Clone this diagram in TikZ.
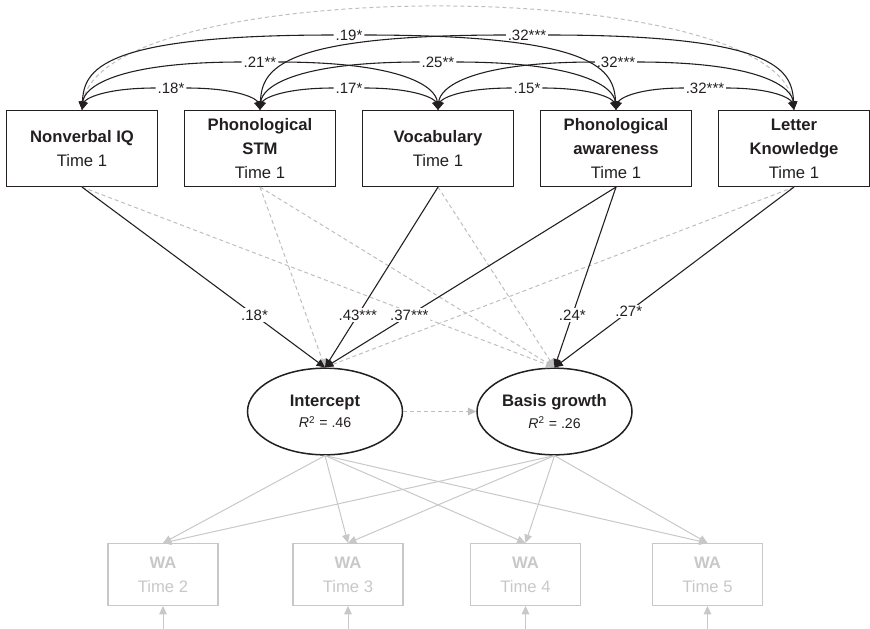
\documentclass[tikz,border=0pt]{standalone}
\usepackage{fontspec}
\setmainfont{Liberation Sans}
\usetikzlibrary{arrows.meta,shapes.geometric}
\definecolor{ink}{HTML}{231F20}
\definecolor{pale}{HTML}{C8C8C8}
\definecolor{nsgrey}{HTML}{BEBEBE}

\begin{document}
\begin{tikzpicture}[x=0.6pt,y=-0.6pt,
    font=\fontsize{10}{14.4}\selectfont,
    headed/.style={-{Triangle[length=5pt,width=4.6pt]}},
    pred/.style={draw=ink,text=ink,line width=0.8pt,minimum width=90.5pt,minimum height=45.5pt,align=center,inner sep=1pt},
    wabox/.style={draw=pale,text=pale,line width=0.8pt,minimum width=66pt,minimum height=37pt,align=center,inner sep=1pt},
    latent/.style={ellipse,draw=ink,text=ink,line width=0.9pt,minimum width=93pt,minimum height=52pt,inner sep=0pt,align=center},
    corr/.style={ink,line width=0.65pt,headed},
    nscorr/.style={nsgrey,line width=0.6pt,dash pattern=on 2.4pt off 1.8pt,{Triangle[length=5pt,width=4.6pt]}-{Triangle[length=5pt,width=4.6pt]}},
    effect/.style={ink,line width=0.65pt,headed},
    nseffect/.style={nsgrey,line width=0.6pt,dash pattern=on 2.4pt off 1.8pt,headed},
    loading/.style={pale,line width=0.6pt,headed},
    coef/.style={text=ink,font=\fontsize{9}{11}\selectfont,inner sep=1pt},
    wcoef/.style={coef,fill=white}]
    \useasboundingbox (0,0) rectangle (870,628);

    % time 1 predictors
    \node[pred] (niq) at (82,148.5) {\textbf{Nonverbal IQ}\\Time 1};
    \node[pred] (stm) at (260,148.5) {\textbf{Phonological}\\\textbf{STM}\\Time 1};
    \node[pred] (voc) at (438,148.5) {\textbf{Vocabulary}\\Time 1};
    \node[pred] (pa) at (616,148.5) {\textbf{Phonological}\\\textbf{awareness}\\Time 1};
    \node[pred] (lk) at (794,148.5) {\textbf{Letter}\\\textbf{Knowledge}\\Time 1};

    % growth factors
    \node[latent] (icpt) at (325,411.5) {\textbf{Intercept}\\[-1.5pt]{\fontsize{8.5}{10}\selectfont\textit{R}\textsuperscript{2} = .46}};
    \node[latent] (bg) at (554.5,411.5) {\textbf{Basis growth}\\[-1.5pt]{\fontsize{8.5}{10}\selectfont\textit{R}\textsuperscript{2} = .26}};

    % word attack, times 2-5
    \node[wabox] (wa2) at (163,574.5) {\textbf{WA}\\Time 2};
    \node[wabox] (wa3) at (348,574.5) {\textbf{WA}\\Time 3};
    \node[wabox] (wa4) at (525.5,574.5) {\textbf{WA}\\Time 4};
    \node[wabox] (wa5) at (707.5,574.5) {\textbf{WA}\\Time 5};
    \coordinate (e2) at (163,630);
    \coordinate (e3) at (348,630);
    \coordinate (e4) at (525.5,630);
    \coordinate (e5) at (707.5,630);

    % correlations
    \draw[nscorr] (niq.north) .. controls +(20,-136) and +(-20,-136) .. (lk.north);
    \node[coef] (r12) at (171,88) {.18*};
    \node[coef] (r23) at (349,88) {.17*};
    \node[coef] (r34) at (527,88) {.15*};
    \node[coef] (r45) at (705,88) {.32***};
    \node[coef] (r13) at (260,62) {.21**};
    \node[coef] (r24) at (438,62) {.25**};
    \node[coef] (r35) at (616,62) {.32***};
    \node[coef] (r14) at (349,35) {.19*};
    \node[coef] (r25) at (527,35) {.32***};
    \draw[corr] (r12.west) .. controls +(-52,0) and +(3,-11) .. (niq.north);
    \draw[corr] (r12.east) .. controls +(52,0) and +(-3,-11) .. (stm.north);
    \draw[corr] (r23.west) .. controls +(-52,0) and +(3,-11) .. (stm.north);
    \draw[corr] (r23.east) .. controls +(52,0) and +(-3,-11) .. (voc.north);
    \draw[corr] (r34.west) .. controls +(-52,0) and +(3,-11) .. (voc.north);
    \draw[corr] (r34.east) .. controls +(52,0) and +(-3,-11) .. (pa.north);
    \draw[corr] (r45.west) .. controls +(-48,0) and +(3,-11) .. (pa.north);
    \draw[corr] (r45.east) .. controls +(48,0) and +(-3,-11) .. (lk.north);
    \draw[corr] (r13.west) .. controls +(-128,0) and +(2,-22) .. (niq.north);
    \draw[corr] (r13.east) .. controls +(128,0) and +(-2,-22) .. (voc.north);
    \draw[corr] (r24.west) .. controls +(-128,0) and +(2,-22) .. (stm.north);
    \draw[corr] (r24.east) .. controls +(128,0) and +(-2,-22) .. (pa.north);
    \draw[corr] (r35.west) .. controls +(-126,0) and +(2,-22) .. (voc.north);
    \draw[corr] (r35.east) .. controls +(126,0) and +(-2,-22) .. (lk.north);
    \draw[corr] (r14.west) .. controls +(-234,0) and +(2,-40) .. (niq.north);
    \draw[corr] (r14.east) .. controls +(234,0) and +(-2,-40) .. (pa.north);
    \draw[corr] (r25.west) .. controls +(-229,0) and +(2,-40) .. (stm.north);
    \draw[corr] (r25.east) .. controls +(229,0) and +(-2,-40) .. (lk.north);

    % predictors -> growth factors
    \draw[nseffect] (niq.south) -- (bg.north);
    \draw[nseffect] (stm.south) -- (icpt.north);
    \draw[nseffect] (stm.south) -- (bg.north);
    \draw[nseffect] (voc.south) -- (bg.north);
    \draw[nseffect] (lk.south) -- (icpt.north);
    \draw[effect] (niq.south) -- node[wcoef,pos=.71] {.18*} (icpt.north);
    \draw[effect] (voc.south) -- node[wcoef,pos=.71] {.43***} (icpt.north);
    \draw[effect] (pa.south) -- node[wcoef,pos=.71] {.37***} (icpt.north);
    \draw[effect] (pa.south) -- node[wcoef,pos=.71] {.24*} (bg.north);
    \draw[effect] (lk.south) -- node[wcoef,pos=.69] {.27*} (bg.north);
    \draw[nseffect] (icpt.east) -- (bg.west);

    % growth factors -> WA
    \draw[loading] (icpt.south) -- (wa2.north);
    \draw[loading] (icpt.south) -- (wa3.north);
    \draw[loading] (icpt.south) -- (wa4.north);
    \draw[loading] (icpt.south) -- (wa5.north);
    \draw[loading] (bg.south) -- (wa2.north);
    \draw[loading] (bg.south) -- (wa3.north);
    \draw[loading] (bg.south) -- (wa4.north);
    \draw[loading] (bg.south) -- (wa5.north);
    \draw[loading] (e2) -- (wa2.south);
    \draw[loading] (e3) -- (wa3.south);
    \draw[loading] (e4) -- (wa4.south);
    \draw[loading] (e5) -- (wa5.south);
\end{tikzpicture}
\end{document}
